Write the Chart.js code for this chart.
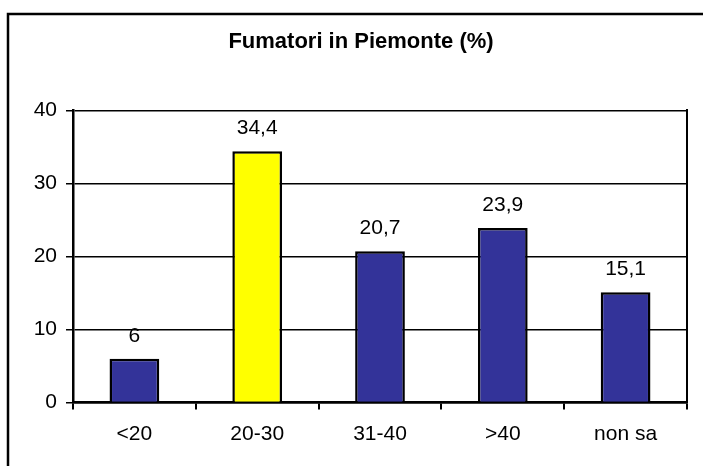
<!DOCTYPE html>
<html>
<head>
<meta charset="utf-8">
<script src="https://cdn.jsdelivr.net/npm/chart.js@4/dist/chart.umd.min.js"></script>
<style>
  body { margin: 0; background: #fff; }
  canvas { display: block; }
</style>
</head>
<body>
<canvas id="myChart" width="703" height="466"></canvas>
<script>
const categories = ['<20', '20-30', '31-40', '>40', 'non sa'];
const values = [6, 34.4, 20.7, 23.9, 15.1];
const barColors = ['#333399', '#FFFF00', '#333399', '#333399', '#333399'];
const yTicks = [0, 10, 20, 30, 40];

const font = 'Liberation Sans, Arial, Helvetica, sans-serif';

// outer frame (only top and left edges show in the picture)
const framePlugin = {
    id: 'frame',
    beforeDraw(chart) {
        const ctx = chart.ctx;
        ctx.save();
        ctx.fillStyle = '#fff';
        ctx.fillRect(0, 0, chart.width, chart.height);
        ctx.strokeStyle = '#000';
        ctx.lineWidth = 2.5;
        ctx.beginPath();
        ctx.moveTo(8, chart.height);
        ctx.lineTo(8, 14);
        ctx.lineTo(chart.width, 14);
        ctx.stroke();
        ctx.restore();
    }
};

// value labels over the bars, italian decimal comma
const labelPlugin = {
    id: 'valueLabels',
    afterDatasetsDraw(chart) {
        const ctx = chart.ctx;
        ctx.save();
        ctx.font = `21px ${font}`;
        ctx.fillStyle = '#000';
        ctx.textAlign = 'center';
        ctx.textBaseline = 'alphabetic';
        chart.getDatasetMeta(0).data.forEach((bar, i) => {
            ctx.fillText(String(values[i]).replace('.', ','), bar.x, bar.y - 17);
        });
        ctx.restore();
    }
};

const chart = new Chart(document.getElementById('myChart'), {
    type: 'bar',
    data: {
        labels: categories,
        datasets: [{
            data: values,
            backgroundColor: barColors,
            borderColor: '#000',
            borderWidth: 2.5,
            barPercentage: 0.405,
            categoryPercentage: 1
        }]
    },
    options: {
        responsive: false,
        animation: false,
        devicePixelRatio: 1,
        layout: {padding: {left: 19, right: 0, top: 0, bottom: 0}},
        plugins: {
            legend: {display: false},
            tooltip: {enabled: false},
            title: {
                display: true,
                text: 'Fumatori in Piemonte (%)',
                color: '#000',
                font: {family: font, size: 22, weight: 'bold', lineHeight: 1.2},
                padding: {top: 29, bottom: 55}
            }
        },
        scales: {
            x: {
                grid: {display: true, offset: true, drawOnChartArea: false, color: '#000', lineWidth: 2, tickLength: 7},
                border: {display: true, color: '#000', width: 2.5},
                ticks: {color: '#000', font: {family: font, size: 21}, padding: 12, maxRotation: 0},
                afterFit: axis => { axis.height = 63.5; }
            },
            y: {
                min: 0,
                max: 40,
                afterBuildTicks: axis => { axis.ticks = yTicks.map(v => ({value: v})); },
                grid: {color: '#000', lineWidth: 1.5, tickLength: 7},
                border: {display: true, color: '#000', width: 2.5},
                ticks: {color: '#000', font: {family: font, size: 21}, padding: 9},
                afterFit: axis => { axis.width = 54; }
            },
            y2: {
                position: 'right',
                min: 0,
                max: 40,
                grid: {display: false},
                border: {display: true, color: '#000', width: 2},
                ticks: {display: false},
                afterFit: axis => { axis.width = 16; }
            }
        }
    },
    plugins: [framePlugin, labelPlugin]
});
</script>
</body>
</html>
